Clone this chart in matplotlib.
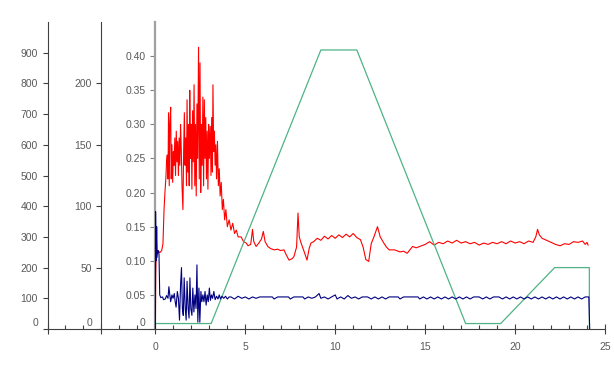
import matplotlib
matplotlib.use("Agg")
import matplotlib.pyplot as plt
from matplotlib.ticker import FixedLocator, MultipleLocator, FixedFormatter

plt.rcParams['font.family'] = ['Liberation Sans', 'DejaVu Sans']

# ---------------- data ----------------
red_x = [0.00, 0.02, 0.05, 0.10, 0.15, 0.25, 0.35, 0.42, 0.48, 0.53, 0.58, 0.62, 0.66, 0.70,
         0.73, 0.77, 0.80, 0.85, 0.88, 0.92, 0.96, 1.00, 1.04, 1.08, 1.12, 1.16, 1.20, 1.24,
         1.28, 1.32, 1.36, 1.40, 1.44, 1.48, 1.53, 1.57, 1.61, 1.65, 1.69, 1.73, 1.76, 1.80,
         1.84, 1.88, 1.91, 1.95, 1.99, 2.03, 2.07, 2.11, 2.15, 2.19, 2.23, 2.27, 2.31, 2.35,
         2.40, 2.44, 2.48, 2.52, 2.56, 2.60, 2.64, 2.68, 2.72, 2.76, 2.80, 2.84, 2.88, 2.92,
         2.96, 3.00, 3.05, 3.09, 3.13, 3.17, 3.20, 3.24, 3.28, 3.32, 3.36, 3.40, 3.45, 3.50,
         3.55, 3.60, 3.66, 3.72, 3.78, 3.85, 3.92, 4.00, 4.10, 4.20, 4.30, 4.40, 4.50, 4.60,
         4.77, 4.90, 5.05, 5.15, 5.30, 5.40, 5.47, 5.60, 5.75, 5.90, 6.00, 6.10, 6.25, 6.40,
         6.60, 6.80, 6.95, 7.15, 7.25, 7.43, 7.60, 7.70, 7.85, 7.93, 8.00, 8.10, 8.25, 8.43,
         8.55, 8.65, 8.80, 9.00, 9.20, 9.40, 9.60, 9.80, 10.00, 10.20, 10.40, 10.60, 10.80,
         11.00, 11.20, 11.40, 11.55, 11.70, 11.86, 12.00, 12.15, 12.35, 12.50, 12.70, 12.85,
         13.00, 13.30, 13.60, 13.80, 14.00, 14.15, 14.30, 14.50, 14.70, 15.00, 15.25, 15.50,
         15.75, 16.00, 16.25, 16.50, 16.75, 17.00, 17.25, 17.50, 17.75, 18.00, 18.25, 18.50,
         18.75, 19.00, 19.25, 19.50, 19.75, 20.00, 20.25, 20.50, 20.75, 21.00, 21.15, 21.25,
         21.35, 21.50, 21.75, 22.00, 22.25, 22.50, 22.75, 23.00, 23.25, 23.50, 23.75, 23.90,
         24.00, 24.06]
red_y = [0.000, 0.080, 0.120, 0.105, 0.115, 0.112, 0.115, 0.125, 0.175, 0.200, 0.220, 0.245, 0.255, 0.220,
         0.317, 0.210, 0.300, 0.325, 0.220, 0.270, 0.215, 0.260, 0.240, 0.280, 0.225, 0.290, 0.245, 0.275,
         0.225, 0.280, 0.240, 0.300, 0.260, 0.210, 0.175, 0.260, 0.317, 0.240, 0.280, 0.210, 0.336, 0.230,
         0.300, 0.210, 0.350, 0.250, 0.300, 0.205, 0.320, 0.245, 0.358, 0.210, 0.300, 0.195, 0.330, 0.250,
         0.413, 0.220, 0.390, 0.200, 0.300, 0.240, 0.340, 0.210, 0.336, 0.250, 0.310, 0.220, 0.290, 0.205,
         0.300, 0.250, 0.297, 0.225, 0.310, 0.230, 0.358, 0.260, 0.290, 0.240, 0.270, 0.220, 0.275, 0.210,
         0.235, 0.195, 0.215, 0.175, 0.190, 0.160, 0.175, 0.150, 0.160, 0.145, 0.155, 0.140, 0.145, 0.135,
         0.135, 0.128, 0.126, 0.122, 0.124, 0.146, 0.128, 0.121, 0.126, 0.132, 0.143, 0.128, 0.121, 0.118,
         0.116, 0.117, 0.115, 0.116, 0.110, 0.101, 0.103, 0.106, 0.120, 0.170, 0.135, 0.126, 0.115, 0.101,
         0.118, 0.126, 0.128, 0.133, 0.130, 0.136, 0.132, 0.137, 0.133, 0.138, 0.134, 0.139, 0.135,
         0.140, 0.134, 0.131, 0.120, 0.102, 0.099, 0.125, 0.135, 0.150, 0.135, 0.126, 0.120,
         0.116, 0.116, 0.113, 0.114, 0.111, 0.116, 0.121, 0.119, 0.121, 0.124, 0.128, 0.123,
         0.127, 0.125, 0.129, 0.126, 0.130, 0.126, 0.128, 0.125, 0.127, 0.123, 0.126, 0.124,
         0.127, 0.125, 0.128, 0.125, 0.129, 0.126, 0.128, 0.125, 0.129, 0.127, 0.135, 0.146,
         0.138, 0.133, 0.130, 0.127, 0.124, 0.122, 0.125, 0.124, 0.128, 0.127, 0.129, 0.124,
         0.127, 0.123]

blue_x = [0.00, 0.01, 0.04, 0.07, 0.10, 0.15, 0.20, 0.24, 0.30, 0.40, 0.45, 0.55, 0.62, 0.70,
          0.75, 0.80, 0.85, 0.92, 0.98, 1.05, 1.10, 1.15, 1.22, 1.28, 1.34, 1.40, 1.45, 1.50,
          1.55, 1.60, 1.66, 1.71, 1.76, 1.82, 1.87, 1.92, 1.97, 2.03, 2.08, 2.14, 2.20, 2.26,
          2.31, 2.36, 2.42, 2.47, 2.53, 2.58, 2.64, 2.70, 2.76, 2.82, 2.88, 2.94, 3.00, 3.06,
          3.12, 3.18, 3.25, 3.32, 3.40, 3.48, 3.55, 3.62, 3.70, 3.80, 3.90, 4.00, 4.10, 4.20,
          4.40, 4.60, 4.80, 5.00, 5.20, 5.40, 5.60, 5.80, 6.00, 6.50, 6.60, 6.80, 7.00, 7.40,
          7.50, 7.70, 8.20, 8.30, 8.50, 8.70, 8.90, 9.10, 9.20, 9.40, 9.60, 9.80, 10.00, 10.10,
          10.30, 10.50, 10.70, 10.90, 11.10, 11.30, 11.50, 11.80, 12.00, 12.20, 12.40, 12.60,
          12.80, 13.00, 13.50, 13.60, 13.80, 14.60, 14.70, 14.90, 15.10, 15.30, 15.50, 15.70,
          15.90, 16.10, 16.30, 16.50, 16.70, 16.90, 17.10, 17.30, 17.50, 17.70, 18.00, 18.20,
          18.40, 18.60, 18.80, 19.10, 19.30, 19.50, 19.70, 19.90, 20.10, 20.30, 20.50, 20.70,
          20.90, 21.10, 21.30, 21.50, 21.70, 21.90, 22.10, 22.30, 22.50, 22.70, 22.90, 23.10,
          23.30, 23.50, 23.70, 23.90, 24.10, 24.13, 24.15]
blue_y = [0.000, 0.172, 0.100, 0.150, 0.110, 0.115, 0.110, 0.050, 0.046, 0.047, 0.043, 0.044, 0.049, 0.045,
          0.062, 0.050, 0.040, 0.050, 0.045, 0.052, 0.040, 0.032, 0.055, 0.045, 0.013, 0.065, 0.090, 0.030,
          0.020, 0.075, 0.030, 0.013, 0.070, 0.030, 0.016, 0.075, 0.030, 0.020, 0.060, 0.025, 0.050, 0.030,
          0.094, 0.010, 0.060, 0.010, 0.055, 0.040, 0.050, 0.040, 0.055, 0.035, 0.050, 0.040, 0.060, 0.042,
          0.050, 0.045, 0.055, 0.043, 0.048, 0.044, 0.050, 0.044, 0.048, 0.045, 0.048, 0.044, 0.047, 0.047,
          0.044, 0.048, 0.045, 0.047, 0.044, 0.047, 0.045, 0.047, 0.047, 0.047, 0.044, 0.047, 0.047, 0.047,
          0.044, 0.047, 0.047, 0.044, 0.047, 0.045, 0.047, 0.052, 0.045, 0.047, 0.044, 0.047, 0.050, 0.044,
          0.047, 0.044, 0.049, 0.045, 0.047, 0.044, 0.047, 0.047, 0.044, 0.047, 0.044, 0.047,
          0.044, 0.047, 0.047, 0.044, 0.047, 0.047, 0.044, 0.047, 0.044, 0.047, 0.044, 0.047,
          0.044, 0.047, 0.044, 0.047, 0.044, 0.047, 0.044, 0.047, 0.044, 0.047, 0.047, 0.044,
          0.047, 0.044, 0.047, 0.047, 0.044, 0.047, 0.044, 0.047, 0.044, 0.047, 0.044, 0.047,
          0.044, 0.047, 0.044, 0.047, 0.044, 0.047, 0.044, 0.047, 0.044, 0.047, 0.044, 0.047,
          0.044, 0.047, 0.044, 0.047, 0.047, 0.020, 0.000]

green_x = [0.05, 3.10, 9.20, 11.20, 17.25, 19.20, 22.20, 24.13, 24.13]
green_y = [0.008, 0.008, 0.409, 0.409, 0.008, 0.008, 0.090, 0.090, 0.000]

inner_ticks = [0, 0.05, 0.10, 0.15, 0.20, 0.25, 0.30, 0.35, 0.40]
inner_labels = ['', '0.05', '0.10', '0.15', '0.20', '0.25', '0.30', '0.35', '0.40']
mid_ticks = [0, 50, 100, 150, 200]
mid_labels = ['', '50', '100', '150', '200']
outer_ticks = [0, 100, 200, 300, 400, 500, 600, 700, 800, 900]
outer_labels = ['', '100', '200', '300', '400', '500', '600', '700', '800', '900']
x_ticks = [-6, -3, 0, 5, 10, 15, 20, 25]
x_labels = ['', '', '0', '5', '10', '15', '20', '25']

# ---------------- figure ----------------
W, H = 614, 371
fig = plt.figure(figsize=(W / 100, H / 100), dpi=100)
x0, x1, yb, yt = 47.5, 605, 329, 22
ax = fig.add_axes([x0 / W, (H - yb) / H, (x1 - x0) / W, (yb - yt) / H])

TXT = '#595959'
DARK = '#404040'
FS = 7.5

ax.set_xlim(-6, 25)
ax.set_ylim(0, 0.45)

ax.plot(red_x, red_y, color='#ff0000', lw=0.8, zorder=2)
ax.plot(green_x, green_y, color='#4fb386', lw=0.9, zorder=3)
ax.plot(blue_x, blue_y, color='#000080', lw=0.8, zorder=4)

for s in ['top', 'right']:
    ax.spines[s].set_visible(False)
ax.spines['left'].set_position(('data', 0))
ax.spines['left'].set_color('#a0a0a0')
ax.spines['left'].set_linewidth(1.6)
ax.spines['bottom'].set_color(DARK)
ax.spines['bottom'].set_linewidth(0.8)

ax.xaxis.set_major_locator(FixedLocator(x_ticks))
ax.xaxis.set_major_formatter(FixedFormatter(x_labels))
ax.xaxis.set_minor_locator(MultipleLocator(1))
ax.tick_params(axis='x', which='major', direction='inout', length=7, width=0.8,
               color=DARK, labelcolor=TXT, labelsize=FS, pad=6)
ax.tick_params(axis='x', which='minor', direction='in', length=3, width=0.8, color=DARK)

ax.yaxis.set_major_locator(FixedLocator(inner_ticks))
ax.yaxis.set_major_formatter(FixedFormatter(inner_labels))
ax.tick_params(axis='y', direction='out', length=3.5, width=0.8, color='#808080',
               labelcolor=TXT, labelsize=FS, pad=3.5)

def make_twin(pos, ylim, ticks, labels):
    t = ax.twinx()
    t.set_ylim(*ylim)
    for s in ['top', 'right', 'bottom']:
        t.spines[s].set_visible(False)
    t.spines['left'].set_visible(True)
    t.spines['left'].set_position(('axes', pos))
    t.spines['left'].set_color(DARK)
    t.spines['left'].set_linewidth(0.8)
    t.yaxis.set_ticks_position('left')
    t.yaxis.set_label_position('left')
    t.yaxis.set_major_locator(FixedLocator(ticks))
    t.yaxis.set_major_formatter(FixedFormatter(labels))
    t.tick_params(axis='y', direction='out', length=3.5, width=0.8, color=DARK,
                  labelcolor=TXT, labelsize=FS, pad=3.5)
    t.annotate('0', xy=(pos, 0), xycoords='axes fraction', xytext=(-9, 6.5),
               textcoords='offset pixels', ha='right', va='center', color=TXT, fontsize=FS)
    return t

make_twin(3 / 31, (0, 250), mid_ticks, mid_labels)
make_twin(0.0, (0, 1000), outer_ticks, outer_labels)

ax.annotate('0', xy=(0, 0), xycoords='data', xytext=(-10, 6.5),
            textcoords='offset pixels', ha='right', va='center', color=TXT, fontsize=FS)

fig.savefig('out.png', dpi=100)
